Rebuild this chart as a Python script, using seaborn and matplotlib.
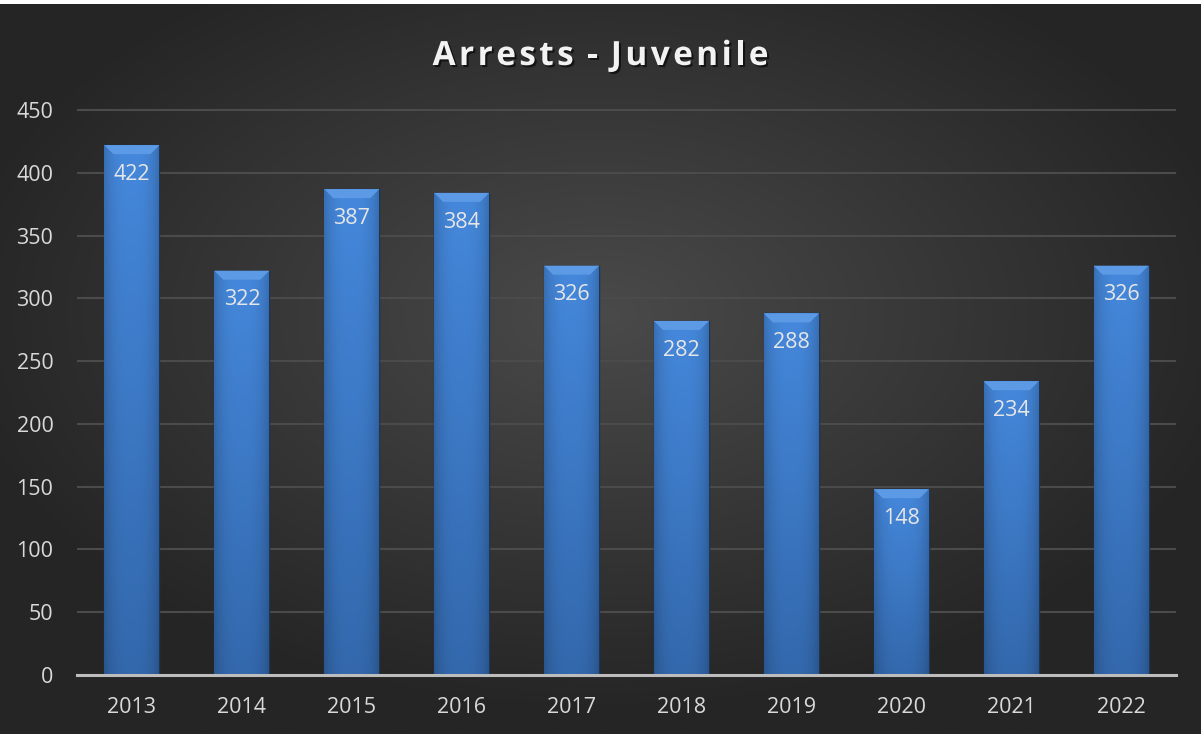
import numpy as np
import pandas as pd
import matplotlib
matplotlib.use("Agg")
import matplotlib.pyplot as plt
import matplotlib.patheffects as pe
from matplotlib.patches import Polygon
import seaborn as sns

# data
years = ["2013", "2014", "2015", "2016", "2017", "2018", "2019", "2020", "2021", "2022"]
arrests = [422, 322, 387, 384, 326, 282, 288, 148, 234, 326]
y_ticks = [0, 50, 100, 150, 200, 250, 300, 350, 400, 450]
title = "Arrests - Juvenile"

df = pd.DataFrame({"Year": years, "Arrests": arrests})

sns.set_theme(style="dark")
plt.rcParams["font.family"] = ["Open Sans", "DejaVu Sans"]

W, H = 1203, 734
fig = plt.figure(figsize=(W / 100, H / 100), dpi=100)
fig.patch.set_facecolor("white")

# dark radial background
bg = fig.add_axes([0, 0, 1 - 2 / W, 1 - 4 / H], zorder=-5)
gx, gy = np.meshgrid(np.linspace(-1, 1, 400), np.linspace(-1, 1, 250))
r = np.sqrt(((gx - 0.0) / 1.1) ** 2 + ((gy + 0.15) / 1.1) ** 2)
r = np.clip(r, 0, 1)
lo, hi = np.array([0x25, 0x25, 0x25]) / 255, np.array([0x4a, 0x4a, 0x4a]) / 255
img = hi[None, None, :] * (1 - r[..., None]) + lo[None, None, :] * r[..., None]
bg.imshow(img, aspect="auto", extent=[0, 1, 0, 1], origin="upper")
bg.set_axis_off()

# main axes
ymax = 452
left, right, bottom, top450 = 77, 1176, 675, 110
px_per_unit = (bottom - top450) / 450
ax = fig.add_axes([left / W, (H - bottom) / H, (right - left) / W,
                   ymax * px_per_unit / H])
ax.set_facecolor("none")

sns.barplot(data=df, x="Year", y="Arrests", color="#3d7cc9", width=0.5,
            edgecolor="#1d3556", linewidth=1.0, ax=ax, zorder=3)

ax.set_ylim(0, ymax)
ax.set_xlim(-0.5, len(years) - 0.5)
ax.set_yticks(y_ticks)
ax.grid(axis="y", color="#4b4b4b", linewidth=1.5, zorder=0)
ax.grid(axis="x", visible=False)
ax.set_axisbelow(True)
for s in ["top", "right", "left"]:
    ax.spines[s].set_visible(False)
ax.spines["bottom"].set_color("#bdbdbd")
ax.spines["bottom"].set_linewidth(2.2)
ax.spines["bottom"].set_zorder(6)
ax.tick_params(axis="both", length=0, colors="#d9d9d9", labelsize=15.5)
ax.tick_params(axis="x", pad=16)
ax.tick_params(axis="y", pad=17)
ax.set_xlabel("")
ax.set_ylabel("")

# gradient fill and bevel on each bar
grad_y = np.linspace(0, 1, 200)[:, None]
grad_x = np.linspace(-1, 1, 60)[None, :]
top_c = np.array([0x45, 0x88, 0xdc]) / 255
bot_c = np.array([0x33, 0x68, 0xac]) / 255
base = top_c[None, None, :] * (1 - grad_y[..., None]) + bot_c[None, None, :] * grad_y[..., None]
shade = 1 - 0.18 * np.abs(grad_x[..., None]) ** 3
bar_img = np.clip(base * shade, 0, 1)

bevel_dx = 9 / 110
bevel_dy = 9 / px_per_unit
for patch, val in zip(ax.patches, arrests):
    x0, w, h = patch.get_x(), patch.get_width(), patch.get_height()
    im = ax.imshow(bar_img, extent=[x0, x0 + w, 0, h], aspect="auto",
                   origin="upper", zorder=3.5)
    im.set_clip_path(patch)
    bevel = Polygon([[x0, h], [x0 + w, h], [x0 + w - bevel_dx, h - bevel_dy],
                     [x0 + bevel_dx, h - bevel_dy]], closed=True,
                    facecolor="#5c9ae6", edgecolor="none", zorder=4)
    ax.add_patch(bevel)
    ax.annotate(f"{val}", (x0 + w / 2, h), xytext=(0, -21),
                textcoords="offset points", ha="center", va="center",
                color="#e6e6e6", fontsize=15.5, zorder=5)

ax.set_ylim(0, ymax)
ax.set_xlim(-0.5, len(years) - 0.5)

# title with letter spacing: place characters one by one
shadow = [pe.withSimplePatchShadow(offset=(1.5, -1.5), shadow_rgbFace="black", alpha=0.6)]
renderer = fig.canvas.get_renderer()
title_kw = dict(color="#f2f2f2", fontsize=24, fontweight="bold", va="baseline")
spacing = 3.4
widths = []
for ch in title:
    t = fig.text(0, 0, ch.replace(" ", "-"), **title_kw)
    widths.append(t.get_window_extent(renderer).width if ch != " " else
                  t.get_window_extent(renderer).width * 0.6)
    t.remove()
total = sum(widths) + spacing * (len(title) - 1)
xpos = (W - 2) / 2 - total / 2
base_y = 1 - 65 / H
for ch, cw in zip(title, widths):
    if ch != " ":
        fig.text(xpos / W, base_y, ch, path_effects=shadow, **title_kw)
    xpos += cw + spacing

fig.savefig("out.png", dpi=100, facecolor=fig.get_facecolor())
